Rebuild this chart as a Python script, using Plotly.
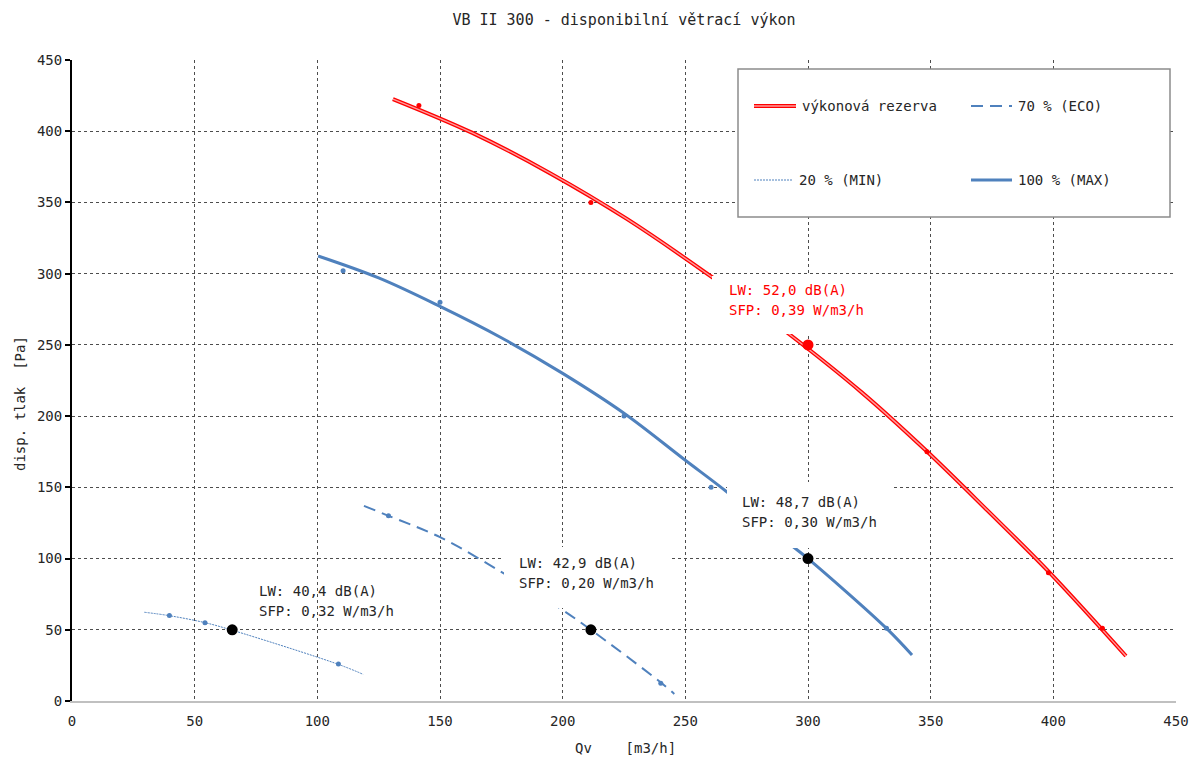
import plotly.graph_objects as go

# ---------------- data ----------------
rez_x = [130.8, 163, 195, 226, 260.9, 292, 322, 348, 373, 398, 429.6]
rez_y = [422.6, 399, 370.4, 338.6, 297.5, 258, 216.5, 176, 134, 91, 31.6]
rez_pts_x = [141.4, 211.5, 348.5, 398, 420]
rez_pts_y = [418, 350, 175, 90, 51]

max_x = [100.3, 125, 150, 175, 200, 225, 250, 267, 292.7, 300, 332, 342.4]
max_y = [312.4, 297, 277, 255, 230, 202, 169, 146.7, 110, 100, 51, 32.3]
max_pts_x = [110.5, 150, 225, 260.5, 332]
max_pts_y = [302, 280, 200, 150, 51]

eco_x = [119, 129, 150, 176, 199, 211.5, 240, 245.5]
eco_y = [137, 130, 115, 89.6, 65, 50, 13, 5]
eco_pts_x = [129, 240]
eco_pts_y = [130, 12.5]

min_x = [29.5, 39.7, 54.2, 65.5, 108.6, 118.7]
min_y = [62.3, 59.9, 55, 49.6, 25.7, 18.7]
min_pts_x = [39.7, 54.2, 108.6]
min_pts_y = [60, 55, 26]

op_red_x = [300]
op_red_y = [250]
op_blk_x = [65.3, 211.5, 300]
op_blk_y = [50, 50, 100]

labels = [
    ("LW: 52,0 dB(A)", "SFP: 0,39 W/m3/h", "#ff0000"),
    ("LW: 48,7 dB(A)", "SFP: 0,30 W/m3/h", "#262626"),
    ("LW: 42,9 dB(A)", "SFP: 0,20 W/m3/h", "#262626"),
    ("LW: 40,4 dB(A)", "SFP: 0,32 W/m3/h", "#262626"),
]
legend_names = ["výkonová rezerva", "70 % (ECO)", "20 % (MIN)", "100 % (MAX)"]

x_ticks = list(range(0, 451, 50))
y_ticks = list(range(0, 451, 50))

# ---------------- layout helpers ----------------
W, H = 1191, 758
L, R, T, B = 72, 1176, 60, 701
FONT = "DejaVu Sans Mono"
BLUE = "#4f81bd"
RED = "#ff0000"
PINK = "#ff9c9c"


def px(p):
    return (p - L) / (R - L)


def py(p):
    return (B - p) / (B - T)


fig = go.Figure()

# red reserve curve (double-looking line)
fig.add_trace(go.Scatter(x=rez_x, y=rez_y, mode="lines", line=dict(color=RED, width=4, shape="spline"),
                         showlegend=False, hoverinfo="skip"))
fig.add_trace(go.Scatter(x=rez_x, y=rez_y, mode="lines", line=dict(color=PINK, width=1.4, shape="spline"),
                         showlegend=False, hoverinfo="skip"))
fig.add_trace(go.Scatter(x=rez_pts_x, y=rez_pts_y, mode="markers", marker=dict(color=RED, size=5),
                         showlegend=False))

# MAX
fig.add_trace(go.Scatter(x=max_x, y=max_y, mode="lines", line=dict(color=BLUE, width=3, shape="spline"),
                         showlegend=False))
fig.add_trace(go.Scatter(x=max_pts_x, y=max_pts_y, mode="markers", marker=dict(color=BLUE, size=5),
                         showlegend=False))
# ECO
fig.add_trace(go.Scatter(x=eco_x, y=eco_y, mode="lines",
                         line=dict(color=BLUE, width=2, shape="spline", dash="12px,7px"), showlegend=False))
fig.add_trace(go.Scatter(x=eco_pts_x, y=eco_pts_y, mode="markers", marker=dict(color=BLUE, size=5),
                         showlegend=False))
# MIN
fig.add_trace(go.Scatter(x=min_x, y=min_y, mode="lines",
                         line=dict(color=BLUE, width=1, shape="spline", dash="2px,1px"), showlegend=False))
fig.add_trace(go.Scatter(x=min_pts_x, y=min_pts_y, mode="markers", marker=dict(color=BLUE, size=5),
                         showlegend=False))

# operating points
fig.add_trace(go.Scatter(x=op_red_x, y=op_red_y, mode="markers", marker=dict(color=RED, size=11),
                         showlegend=False))
fig.add_trace(go.Scatter(x=op_blk_x, y=op_blk_y, mode="markers", marker=dict(color="black", size=11),
                         showlegend=False))

shapes = []
annotations = []

# white boxes behind labels (cover lines and grid)
boxes = [(712, 276, 880, 334), (727, 482, 892, 548), (504, 547, 670, 608)]
for x0, y0, x1, y1 in boxes:
    shapes.append(dict(type="rect", xref="paper", yref="paper", x0=px(x0), x1=px(x1), y0=py(y1), y1=py(y0),
                       fillcolor="white", line=dict(width=0), layer="above"))

# label texts: (left px, line1 y px, line2 y px)
label_pos = [(727, 290, 310), (740, 502, 522), (517, 563, 583), (257, 591, 611)]
for (t1, t2, col), (lx, ly1, ly2) in zip(labels, label_pos):
    for txt, yy in ((t1, ly1), (t2, ly2)):
        annotations.append(dict(text=txt, xref="paper", yref="paper", x=px(lx), y=py(yy),
                                xanchor="left", yanchor="middle", showarrow=False,
                                font=dict(family=FONT, size=14, color=col)))

# manual legend
shapes.append(dict(type="rect", xref="paper", yref="paper", x0=px(738), x1=px(1170), y0=py(217), y1=py(69),
                   fillcolor="white", line=dict(color="#8c8c8c", width=1.5), layer="above"))
leg_items = [
    (legend_names[0], 754, 796, 106, dict(color=RED, width=4), True),
    (legend_names[1], 971, 1012, 106, dict(color=BLUE, width=2, dash="12px,7px"), False),
    (legend_names[2], 754, 793, 180, dict(color=BLUE, width=1, dash="2px,1px"), False),
    (legend_names[3], 971, 1012, 180, dict(color=BLUE, width=3), False),
]
for name, x0, x1, yy, ln, dbl in leg_items:
    shapes.append(dict(type="line", xref="paper", yref="paper", x0=px(x0), x1=px(x1), y0=py(yy), y1=py(yy),
                       line=ln, layer="above"))
    if dbl:
        shapes.append(dict(type="line", xref="paper", yref="paper", x0=px(x0), x1=px(x1), y0=py(yy), y1=py(yy),
                           line=dict(color=PINK, width=1.4), layer="above"))
    annotations.append(dict(text=name, xref="paper", yref="paper", x=px(x1 + 4), y=py(yy),
                            xanchor="left", yanchor="middle", showarrow=False,
                            font=dict(family=FONT, size=14, color="#262626")))

# axis titles
annotations.append(dict(text="Qv\u00a0\u00a0\u00a0\u00a0[m3/h]", xref="paper", yref="paper", x=px(625), y=py(748),
                        xanchor="center", yanchor="middle", showarrow=False,
                        font=dict(family=FONT, size=14, color="#262626")))
annotations.append(dict(text="disp. tlak\u00a0\u00a0[Pa]", xref="paper", yref="paper", x=px(20), y=py(404),
                        xanchor="center", yanchor="middle", showarrow=False, textangle=-90,
                        font=dict(family=FONT, size=14, color="#262626")))

fig.update_layout(
    width=W, height=H,
    margin=dict(l=L, r=W - R, t=T, b=H - B, autoexpand=False),
    paper_bgcolor="white", plot_bgcolor="white",
    font=dict(family=FONT, size=14, color="#262626"),
    title=dict(text="VB II 300 - disponibilní větrací výkon", x=px(624), xref="paper", xanchor="center",
               y=1 - 20 / H, yanchor="middle", font=dict(family=FONT, size=15, color="#262626")),
    showlegend=False,
    shapes=shapes,
    annotations=annotations,
)
fig.update_xaxes(range=[0, 450], tickvals=x_ticks, ticktext=[str(v) for v in x_ticks],
                 showgrid=True, gridcolor="#4d4d4d", gridwidth=1, griddash="dot",
                 showline=True, linecolor="#c0c0c0", linewidth=2, zeroline=False,
                 ticks="outside", ticklen=6, tickcolor="rgba(0,0,0,0)", automargin=False,
                 tickfont=dict(family=FONT, size=14, color="#262626"))
fig.update_yaxes(range=[0, 450], tickvals=y_ticks, ticktext=[str(v) for v in y_ticks],
                 showgrid=True, gridcolor="#4d4d4d", gridwidth=1, griddash="dot",
                 showline=True, linecolor="black", linewidth=2, zeroline=False,
                 ticks="outside", ticklen=5, tickwidth=2, tickcolor="black", automargin=False,
                 tickfont=dict(family=FONT, size=14, color="#262626"))

fig.write_html("out.html", config={"displayModeBar": False},
               post_script="document.body.style.margin='0';document.body.style.padding='0';")
